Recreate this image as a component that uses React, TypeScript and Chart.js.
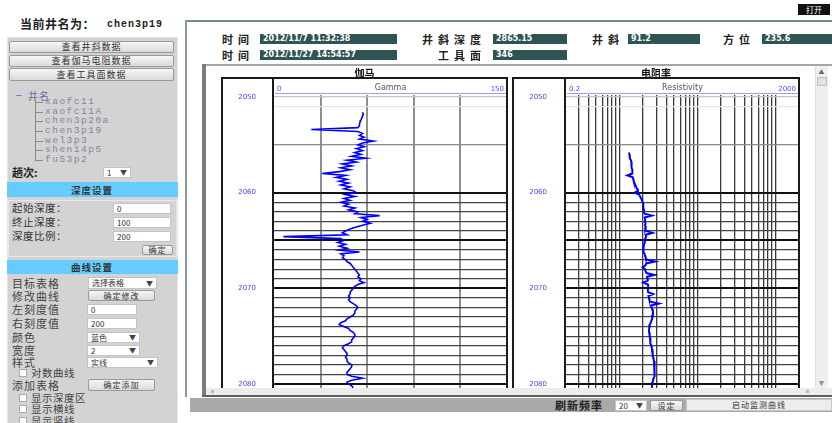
import React, { useEffect, useRef } from 'react';
import { Chart, registerables } from 'chart.js';

Chart.register(...registerables);

// ---------- data ----------
const WELL_NAME = 'chen3p19';
const WELL_LIST = ['xaofc11', 'xaofc11A', 'chen3p20a', 'chen3p19', 'wel3p3', 'shen14p5', 'fu53p2'];

const DEPTH_MIN = 2049.79;
const DEPTH_MAX = 2080.42;
const DEPTH_GRID = [2050, 2051, 2055, 2060, 2061, 2062, 2063, 2064, 2065, 2066, 2067, 2068, 2069, 2070,
  2071, 2072, 2073, 2074, 2075, 2076, 2077, 2078, 2079, 2080];
const DEPTH_THICK = [2060, 2065, 2070, 2080];

const GAMMA_RANGE = [0, 150];
const GAMMA_GRID = [30, 60, 90, 120];
const GAMMA_TOP = 2051.6;
const GAMMA_STEP = 0.2;
const GAMMA = [
  57, 57.5, 57, 56.5, 56, 55.5, 55, 55, 54, 24,
  54, 57, 55, 58, 55, 64, 57, 54, 58, 53,
  57, 52, 56, 50, 59, 47, 53, 44, 50, 43,
  49, 42, 31, 46, 40, 47, 42, 48, 43, 49,
  45, 51, 53, 46, 52, 45, 49, 43, 48, 45,
  52, 48, 54, 52, 68, 56, 60, 57, 62, 57,
  53, 49, 46, 44, 47, 6, 43, 45, 41, 46,
  42, 47, 42, 55, 43, 45, 44, 46, 47, 49,
  50, 51, 52, 53, 54, 55, 54, 56, 55, 58,
  54, 52, 51, 50, 49, 49, 48, 49, 48, 49,
  51, 53, 54, 53, 52, 52, 51, 49, 47, 46,
  43, 42, 45, 48, 49, 51, 52, 52, 51, 50,
  50, 48, 45, 44, 45, 46, 47, 47, 46, 47,
  47, 48, 50, 50, 49, 48, 47, 47, 50, 57,
  50, 47, 48, 50, 51,
];

const RES_RANGE = [2, 2000];
const RES_GRID = [3, 4, 5, 6, 7, 8, 9, 10, 20, 30, 40, 50, 60, 70, 80, 90, 100, 200, 300, 400, 500, 600, 700, 800, 900, 1000];
const RES_TOP = 2055.8;
const RES_STEP = 0.2;
const RESISTIVITY = [
  13.2, 13.4, 13.6, 13.5, 14.0, 14.2, 14.1, 14.4, 14.3, 14.6,
  14.5, 14.7, 12.6, 14.8, 15.0, 15.2, 15.6, 16.0, 16.3, 16.8,
  17.2, 15.6, 17.8, 18.4, 18.9, 19.4, 19.8, 20.2, 20.0, 20.4,
  20.6, 20.5, 20.9, 26.0, 21.0, 21.4, 21.1, 21.6, 21.2, 21.8,
  21.4, 22.0, 26.5, 21.6, 22.0, 21.3, 21.5, 21.0, 20.7, 20.4,
  20.2, 20.0, 20.5, 21.0, 21.3, 21.6, 22.4, 28.6, 22.0, 21.5,
  19.8, 21.2, 21.6, 22.2, 28.0, 22.5, 22.8, 23.0, 20.2, 23.2,
  23.4, 23.2, 23.0, 23.3, 27.0, 23.5, 23.8, 24.2, 24.6, 32.0,
  25.2, 25.8, 26.3, 26.8, 26.9, 26.6, 26.3, 26.1, 25.6, 25.0,
  24.5, 24.2, 23.9, 23.8, 24.0, 24.3, 24.4, 24.6, 24.6, 24.8,
  25.2, 25.6, 25.9, 26.1, 26.4, 26.6, 26.8, 26.9, 27.3, 27.7,
  28.0, 28.3, 28.5, 28.4, 28.2, 28.0, 27.8, 27.7, 27.4, 27.0,
  26.6, 26.2, 26.1, 26.0,
];

// ---------- helpers ----------
const CJK = "'Noto Sans CJK SC', 'DejaVu Sans', sans-serif";
const SANS = "'DejaVu Sans', sans-serif";
const MONO = "'Liberation Mono', 'DejaVu Sans Mono', monospace";

type TP = {
  x: number; y: number; s?: number; b?: boolean; c?: string; f?: string; ls?: number;
  al?: 'left' | 'center' | 'right'; w?: number; z?: number; children: React.ReactNode;
};
function T({ x, y, s = 10, b = false, c = '#222', f, ls = 0, al = 'left', w, z = 5, children }: TP) {
  const h = Math.round(s * 1.5);
  const style: React.CSSProperties = {
    position: 'absolute', top: y - h / 2, height: h, lineHeight: h + 'px', fontSize: s,
    fontWeight: b ? 700 : 400, color: c, whiteSpace: 'nowrap', letterSpacing: ls, zIndex: z,
  };
  if (f) style.fontFamily = f;
  if (al === 'left') style.left = x;
  else if (al === 'center') { const ww = w ?? 200; style.left = x - ww / 2; style.width = ww; style.textAlign = 'center'; }
  else { const ww = w ?? 200; style.left = x - ww; style.width = ww; style.textAlign = 'right'; }
  return <div style={style}>{children}</div>;
}

function B({ x, y, w, h, bg = 'transparent', style = {}, z = 4, children }: {
  x: number; y: number; w: number; h: number; bg?: string; style?: React.CSSProperties; z?: number; children?: React.ReactNode;
}) {
  return (
    <div style={{ position: 'absolute', left: x, top: y, width: w, height: h, background: bg, boxSizing: 'border-box', zIndex: z, ...style }}>
      {children}
    </div>
  );
}

function Btn({ x, y, w, h, label, s = 9 }: { x: number; y: number; w: number; h: number; label: string; s?: number }) {
  return (
    <B x={x} y={y} w={w} h={h} bg="linear-gradient(#f6f6f6, #dadada)"
      style={{ border: '1px solid #999', borderRadius: 2, fontSize: s, color: '#333', textAlign: 'center', lineHeight: (h - 2) + 'px', whiteSpace: 'nowrap', letterSpacing: 1 }}>
      {label}
    </B>
  );
}

function Inp({ x, y, w, h, value, arrow = false }: { x: number; y: number; w: number; h: number; value: string; arrow?: boolean }) {
  return (
    <B x={x} y={y} w={w} h={h} bg="#fff"
      style={{ border: '1px solid #c4c4c4', fontSize: 8, color: '#333', lineHeight: (h - 2) + 'px', paddingLeft: 3, fontFamily: CJK, whiteSpace: 'nowrap' }}>
      {value}
      {arrow && <span style={{ position: 'absolute', right: 3, top: 0, fontSize: 7, color: '#444' }}>▼</span>}
    </B>
  );
}

function Chk({ x, y, label }: { x: number; y: number; label: string }) {
  return (
    <>
      <B x={x} y={y - 4} w={8} h={8} bg="#fff" style={{ border: '1px solid #aaa' }} />
      <T x={x + 12} y={y} s={10.5} c="#444" ls={0.5}>{label}</T>
    </>
  );
}

// ---------- log track ----------
type TrackProps = {
  left: number; top: number; width: number; height: number;
  xType: 'linear' | 'logarithmic'; xRange: number[]; xGrid: number[]; xGridColor: string; xGridWidth: number;
  depthTop: number; depthStep: number; values: number[]; lineWidth: number;
};
function Track(p: TrackProps) {
  const ref = useRef<HTMLCanvasElement>(null);
  useEffect(() => {
    const pts = p.values.map((v, i) => ({ x: v, y: Math.round((p.depthTop + i * p.depthStep) * 100) / 100 }));
    const yColor = (v: number) => v === 2050 ? '#c4c4c4' : v === 2051 ? '#e6e6e6' : v === 2055 ? '#8a8a8a'
      : DEPTH_THICK.includes(v) ? '#111' : '#444';
    const yWidth = (v: number) => DEPTH_THICK.includes(v) ? 2 : 1.3;
    const chart = new Chart(ref.current as HTMLCanvasElement, {
      type: 'line',
      data: {
        datasets: [{
          data: pts, borderColor: '#0000ff', borderWidth: p.lineWidth, pointRadius: 0, tension: 0, fill: false,
        }],
      },
      options: {
        animation: false,
        responsive: false,
        events: [],
        layout: { padding: { top: 15, bottom: 6, left: 0, right: 0 } },
        plugins: { legend: { display: false }, tooltip: { enabled: false } },
        scales: {
          x: {
            type: p.xType, min: p.xRange[0], max: p.xRange[1], position: 'bottom',
            afterBuildTicks: (s: any) => { s.ticks = p.xGrid.map((v) => ({ value: v })); },
            afterFit: (s: any) => { s.height = 0; },
            ticks: { display: false, autoSkip: false },
            border: { display: false },
            grid: { drawTicks: false, color: p.xGridColor, lineWidth: p.xGridWidth },
          },
          y: {
            type: 'linear', reverse: true, min: DEPTH_MIN, max: DEPTH_MAX, position: 'left',
            afterBuildTicks: (s: any) => { s.ticks = DEPTH_GRID.map((v) => ({ value: v })); },
            afterFit: (s: any) => { s.width = 52; },
            ticks: {
              autoSkip: false, padding: 0, crossAlign: 'near', color: '#4646ff',
              font: { size: 7, family: SANS },
              callback: (v: any) => (Number(v) % 10 === 0 ? String(v) : ''),
            },
            border: { display: false },
            grid: {
              drawTicks: true, tickLength: 18, tickColor: 'rgba(0,0,0,0)',
              color: (ctx: any) => yColor(ctx.tick ? ctx.tick.value : 0),
              lineWidth: (ctx: any) => yWidth(ctx.tick ? ctx.tick.value : 0),
            },
          },
        },
      } as any,
    });
    return () => chart.destroy();
  }, []);
  return (
    <canvas ref={ref} width={p.width} height={p.height}
      style={{ position: 'absolute', left: p.left, top: p.top, width: p.width, height: p.height, zIndex: 2 }} />
  );
}

function TrackFrame({ left, width, divider, title, curve, lo, hi }: {
  left: number; width: number; divider: number; title: string; curve: string; lo: string; hi: string;
}) {
  const right = left + width;
  return (
    <>
      <B x={left} y={77} w={width} h={311} z={6} style={{ borderTop: '2px solid #1a1a1a', borderLeft: '2px solid #1a1a1a', borderRight: '2px solid #1a1a1a' }} />
      <B x={divider - 1} y={77} w={2} h={311} bg="#1a1a1a" z={6} />
      <T x={divider + 4} y={89} s={7} c="#5050ff" f={SANS}>{lo}</T>
      <T x={(divider + right) / 2} y={88} s={8} c="#555" f={SANS} al="center">{curve}</T>
      <T x={right - 4} y={89} s={7} c="#5050ff" f={SANS} al="right">{hi}</T>
      <B x={divider + 2} y={93} w={right - divider - 4} h={1} bg="#9a9aff" z={6} />
      <T x={(left + right) / 2} y={72} s={10} b c="#111" al="center">{title}</T>
    </>
  );
}

export default function App() {
  return (
    <div style={{ position: 'absolute', left: 0, top: 0, width: 832, height: 423, overflow: 'hidden', background: '#fff', fontFamily: CJK }}>
      {/* title */}
      <T x={20} y={24} s={12} b c="#222" ls={0.5}>当前井名为：</T>
      <T x={107} y={24} s={10} b c="#222" f={MONO} ls={1}>{WELL_NAME}</T>

      {/* left panel */}
      <B x={7} y={37} w={171} h={390} bg="#d3d3d3" z={1} style={{ border: '1px solid #e4e4e4' }} />
      <Btn x={9} y={41} w={165} h={12} label="查看井斜数据" />
      <Btn x={9} y={55} w={165} h={12} label="查看伽马电阻数据" />
      <Btn x={9} y={68} w={165} h={13} label="查看工具面数据" />

      {/* tree */}
      <T x={15} y={95} s={9} c="#6a6aa8" f={SANS}>−</T>
      <T x={28} y={95} s={10} c="#6a6aa8" ls={1}>井名</T>
      <B x={35} y={100} w={1} h={60} bg="#8a8a8a" z={4} />
      {WELL_LIST.map((n, i) => {
        const cy = 102 + i * 9.67;
        return (
          <React.Fragment key={n}>
            <B x={35} y={cy} w={8} h={1} bg="#8a8a8a" z={4} />
            <T x={45} y={cy} s={9.5} c="#8383a6" f={MONO} ls={1.5}>{n}</T>
          </React.Fragment>
        );
      })}

      <T x={12} y={172} s={11} b c="#222">趟次:</T>
      <Inp x={103} y={167} w={28} h={11} value="1" arrow />

      {/* depth settings */}
      <B x={7} y={182} w={171} h={15} bg="#66ccff" z={3} />
      <T x={92} y={189.5} s={9.5} b c="#333" al="center" ls={1}>深度设置</T>
      <B x={8} y={200} w={169} h={57} z={3} style={{ border: '1px solid #e8e8e8' }} />
      <T x={12} y={208} s={10.5} c="#333" ls={0.5}>起始深度：</T>
      <T x={12} y={222} s={10.5} c="#333" ls={0.5}>终止深度：</T>
      <T x={12} y={236} s={10.5} c="#333" ls={0.5}>深度比例：</T>
      <Inp x={113} y={203} w={58} h={11} value="0" />
      <Inp x={113} y={217} w={58} h={11} value="100" />
      <Inp x={113} y={231} w={58} h={11} value="200" />
      <Btn x={142} y={245} w={31} h={10} label="确定" s={8} />

      {/* curve settings */}
      <B x={7} y={260} w={171} h={14} bg="#66ccff" z={3} />
      <T x={92} y={267} s={9.5} b c="#333" al="center" ls={1}>曲线设置</T>
      <T x={12} y={283} s={11} c="#444" ls={1}>目标表格</T>
      <T x={12} y={296} s={11} c="#444" ls={1}>修改曲线</T>
      <T x={12} y={309} s={11} c="#444" ls={1}>左刻度值</T>
      <T x={12} y={323} s={11} c="#444" ls={1}>右刻度值</T>
      <T x={12} y={337} s={11} c="#444" ls={1}>颜色</T>
      <T x={12} y={350} s={11} c="#444" ls={1}>宽度</T>
      <T x={12} y={362} s={11} c="#444" ls={1}>样式</T>
      <Chk x={19} y={373} label="对数曲线" />
      <T x={12} y={385} s={11} c="#444" ls={1}>添加表格</T>
      <Chk x={19} y={398} label="显示深度区" />
      <Chk x={19} y={409} label="显示横线" />
      <Chk x={19} y={421} label="显示竖线" />
      <Inp x={88} y={277} w={69} h={12} value="选择表格" arrow />
      <Btn x={88} y={290} w={67} h={11} label="确定修改" s={8} />
      <Inp x={87} y={304} w={50} h={11} value="0" />
      <Inp x={87} y={318} w={50} h={11} value="200" />
      <Inp x={87} y={332} w={53} h={11} value="蓝色" arrow />
      <Inp x={87} y={345} w={53} h={11} value="2" arrow />
      <Inp x={87} y={357} w={71} h={11} value="实线" arrow />
      <Btn x={88} y={379} w={67} h={12} label="确定添加" s={8} />

      {/* main frame */}
      <B x={185} y={20} w={647} h={2} bg="#6f8b8b" z={3} />
      <B x={185} y={20} w={2} h={377} bg="#8c9c9c" z={3} />
      <B x={798} y={4} w={32} h={11} bg="#111" z={4} style={{ color: '#fff', fontSize: 8, textAlign: 'center', lineHeight: '11px' }}>打开</B>

      {/* header fields */}
      <T x={222} y={39} s={11} b ls={5}>时间</T>
      <B x={260} y={34} w={137} h={10} bg="#2f5454" style={{ color: '#fff', fontSize: 8, fontWeight: 700, fontFamily: SANS, lineHeight: '10px', paddingLeft: 3 }}>2012/11/7 11:32:38</B>
      <T x={422} y={39} s={11} b ls={5}>井斜深度</T>
      <B x={493} y={34} w={74} h={10} bg="#2f5454" style={{ color: '#fff', fontSize: 8, fontWeight: 700, fontFamily: SANS, lineHeight: '10px', paddingLeft: 3 }}>2865.15</B>
      <T x={592} y={39} s={11} b ls={5}>井斜</T>
      <B x={628} y={34} w={72} h={10} bg="#2f5454" style={{ color: '#fff', fontSize: 8, fontWeight: 700, fontFamily: SANS, lineHeight: '10px', paddingLeft: 3 }}>91.2</B>
      <T x={723} y={39} s={11} b ls={5}>方位</T>
      <B x={762} y={34} w={70} h={10} bg="#2f5454" style={{ color: '#fff', fontSize: 8, fontWeight: 700, fontFamily: SANS, lineHeight: '10px', paddingLeft: 3 }}>235.6</B>
      <T x={222} y={55} s={11} b ls={5}>时间</T>
      <B x={260} y={50} w={137} h={10} bg="#2f5454" style={{ color: '#fff', fontSize: 8, fontWeight: 700, fontFamily: SANS, lineHeight: '10px', paddingLeft: 3 }}>2012/11/27 14:54:57</B>
      <T x={438} y={55} s={11} b ls={5}>工具面</T>
      <B x={493} y={50} w={74} h={10} bg="#2f5454" style={{ color: '#fff', fontSize: 8, fontWeight: 700, fontFamily: SANS, lineHeight: '10px', paddingLeft: 3 }}>346</B>

      {/* chart panel */}
      <B x={202} y={64} w={630} h={2} bg="#a6a6a6" z={3} />
      <B x={202} y={64} w={4} h={333} bg="#7c7c7c" z={3} />
      <B x={202} y={395} w={630} h={2} bg="#5e5e5e" z={7} />
      {/* right scrollbar */}
      <B x={815} y={66} w={13} h={322} bg="#efefef" z={7} style={{ borderLeft: '1px solid #e0e0e0' }} />
      <T x={821.5} y={71} s={6} c="#666" al="center" w={12} z={8}>▲</T>
      <B x={817} y={77} w={10} h={9} bg="#e2e2e2" z={8} style={{ border: '1px solid #bdbdbd' }} />
      <T x={821.5} y={382} s={6} c="#999" al="center" w={12} z={8}>▼</T>
      {/* bottom scrollbar */}
      <B x={206} y={388} w={626} h={7} bg="#ececec" z={7} />
      <B x={211} y={390} w={3} h={3} bg="#bbb" z={8} />
      <B x={806} y={390} w={3} h={3} bg="#bbb" z={8} />

      {/* tracks */}
      <Track left={222} top={80} width={285} height={314} xType="linear" xRange={GAMMA_RANGE} xGrid={GAMMA_GRID}
        xGridColor="#8e8e8e" xGridWidth={2} depthTop={GAMMA_TOP} depthStep={GAMMA_STEP} values={GAMMA} lineWidth={1.6} />
      <Track left={513} top={80} width={286} height={314} xType="logarithmic" xRange={RES_RANGE} xGrid={RES_GRID}
        xGridColor="#3a3a3a" xGridWidth={1.3} depthTop={RES_TOP} depthStep={RES_STEP} values={RESISTIVITY} lineWidth={2} />
      <TrackFrame left={221} width={287} divider={273} title="伽马" curve="Gamma" lo="0" hi="150" />
      <TrackFrame left={512} width={288} divider={565} title="电阻率" curve="Resistivity" lo="0.2" hi="2000" />

      {/* bottom bar */}
      <B x={190} y={398} w={642} h={14} bg="#a9a9a9" z={3} />
      <T x={555} y={405} s={11} b c="#222" ls={1}>刷新频率</T>
      <Inp x={615} y={400} w={32} h={11} value="20" arrow />
      <Btn x={650} y={400} w={33} h={11} label="设定" s={8} />
      <B x={686} y={399} w={146} h={12} bg="#ededed" z={4} style={{ border: '1px solid #c8c8c8', fontSize: 8, color: '#333', textAlign: 'center', lineHeight: '10px', letterSpacing: 1 }}>启动监测曲线</B>
    </div>
  );
}
